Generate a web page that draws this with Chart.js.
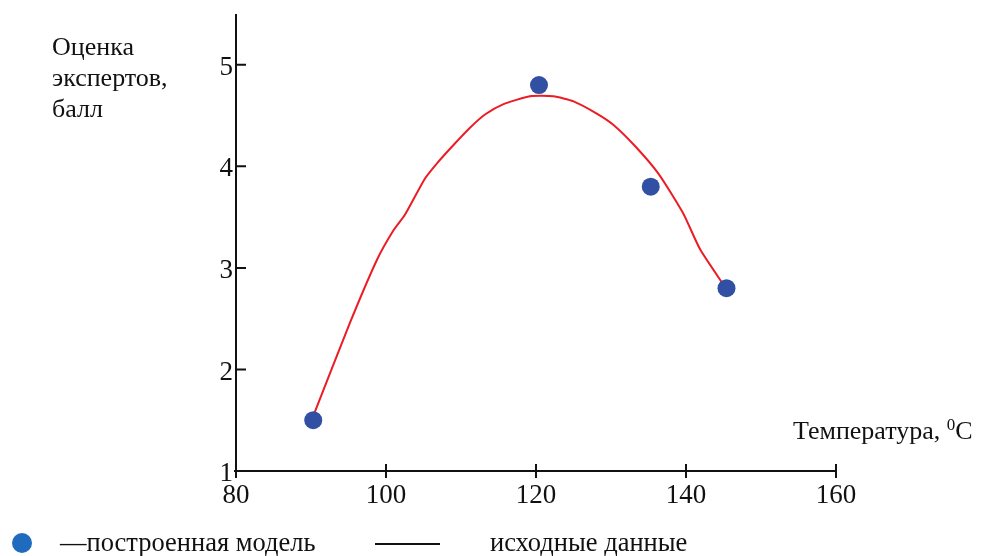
<!DOCTYPE html>
<html>
<head>
<meta charset="utf-8">
<script src="https://cdn.jsdelivr.net/npm/chart.js@4.4.1/dist/chart.umd.min.js"></script>
<style>
  body { margin: 0; background: #fff; }
  #wrap { position: relative; width: 981px; height: 556px; overflow: hidden; font-family: "Liberation Serif", "Times New Roman", serif; color: #111; }
  #myChart { position: absolute; left: 0; top: 0; }
  .lbl { position: absolute; font-size: 26px; line-height: 31px; white-space: nowrap; }
  .lbl sup { font-size: 17px; vertical-align: 9px; line-height: 0; }
  #dot { position: absolute; left: 12px; top: 533px; width: 20px; height: 20px; border-radius: 50%; background: #1f6cbf; }
  #dash { position: absolute; left: 375px; top: 543px; width: 65px; height: 2px; background: #111; }
</style>
</head>
<body>
<div id="wrap">
  <canvas id="myChart" width="981" height="556"></canvas>
  <div class="lbl" style="left:52px; top:31px;">Оценка<br>экспертов,<br>балл</div>
  <div class="lbl" style="left:793px; top:415px;">Температура, <sup>0</sup>C</div>
  <div id="dot"></div>
  <div class="lbl" style="left:60px; top:527px; font-size:26.5px;">—построенная модель</div>
  <div id="dash"></div>
  <div class="lbl" style="left:490px; top:527px; font-size:26.5px;">исходные данные</div>
</div>
<script>
// экспериментальные точки
var pointX = [90.3, 120.4, 135.3, 145.4];
var pointY = [1.5, 4.8, 3.8, 2.8];

// построенная модель
var curveX = [90.4, 95.2, 98.8, 101, 102.5, 105.2, 106.8, 109, 111.2, 113.2, 115.6, 119.2, 122.3, 125, 128.1, 130.3, 133.2, 136.3, 139.6, 141.9, 145.3];
var curveY = [1.56, 2.46, 3.08, 3.37, 3.52, 3.88, 4.03, 4.21, 4.38, 4.51, 4.61, 4.69, 4.69, 4.64, 4.52, 4.41, 4.20, 3.93, 3.54, 3.18, 2.8];

var xTicks = [80, 100, 120, 140, 160];
var yTicks = [1, 2, 3, 4, 5];

function toXY(xs, ys) {
  var out = [];
  for (var i = 0; i < xs.length; i++) {
    out.push({x: xs[i], y: ys[i]});
  }
  return out;
};

// оси и засечки как в исходнике
var axisPlugin = {
  id: 'axisMarks',
  afterDraw: function(chart) {
    var ctx = chart.ctx;
    var xs = chart.scales.x, ys = chart.scales.y;
    var x0 = xs.getPixelForValue(80), y0 = ys.getPixelForValue(1);
    ctx.save();
    ctx.strokeStyle = '#111';
    ctx.lineWidth = 2;
    ctx.beginPath();
    ctx.moveTo(x0, chart.chartArea.top);
    ctx.lineTo(x0, y0 + 6);
    ctx.moveTo(x0 - 2, y0);
    ctx.lineTo(xs.getPixelForValue(160), y0);
    xTicks.forEach(function(t) {
      var px = xs.getPixelForValue(t);
      ctx.moveTo(px, y0 - 7);
      ctx.lineTo(px, y0 + 7);
    });
    yTicks.forEach(function(t) {
      var py = ys.getPixelForValue(t);
      ctx.moveTo(x0 - 1, py);
      ctx.lineTo(x0 + 10, py);
    });
    ctx.stroke();
    ctx.restore();
  }
};

var myChart = document.querySelector('#myChart').getContext('2d');

window.expChart = new Chart(myChart, {
  type: 'scatter',
  data: {
    datasets: [{
      label: 'исходные данные',
      data: toXY(pointX, pointY),
      pointRadius: 9,
      pointBackgroundColor: '#3150a3',
      pointBorderWidth: 0,
      showLine: false
    }, {
      label: 'построенная модель',
      data: toXY(curveX, curveY),
      showLine: true,
      borderColor: '#ec1c24',
      borderWidth: 2,
      pointRadius: 0,
      tension: 0.2
    }]
  },
  options: {
    responsive: false,
    animation: false,
    events: [],
    layout: {
      padding: {left: 196, right: 145, top: 14, bottom: 45}
    },
    plugins: {
      legend: {display: false},
      tooltip: {enabled: false}
    },
    scales: {
      x: {
        type: 'linear',
        min: 80,
        max: 160,
        afterFit: function(scale) { scale.height = 40; },
        afterBuildTicks: function(scale) {
          scale.ticks = xTicks.map(function(v) { return {value: v}; });
        },
        grid: {display: false, drawTicks: false},
        border: {display: false},
        ticks: {
          padding: 9,
          color: '#111',
          font: {family: 'Liberation Serif', size: 27}
        }
      },
      y: {
        type: 'linear',
        min: 1,
        max: 5.5,
        afterFit: function(scale) {
          scale.width = 40;
          scale.paddingTop = 0;
          scale.paddingBottom = 0;
        },
        afterBuildTicks: function(scale) {
          scale.ticks = yTicks.map(function(v) { return {value: v}; });
        },
        grid: {display: false, drawTicks: false},
        border: {display: false},
        ticks: {
          padding: 3,
          labelOffset: 3,
          color: '#111',
          font: {family: 'Liberation Serif', size: 27}
        }
      }
    }
  },
  plugins: [axisPlugin]
});
</script>
</body>
</html>
